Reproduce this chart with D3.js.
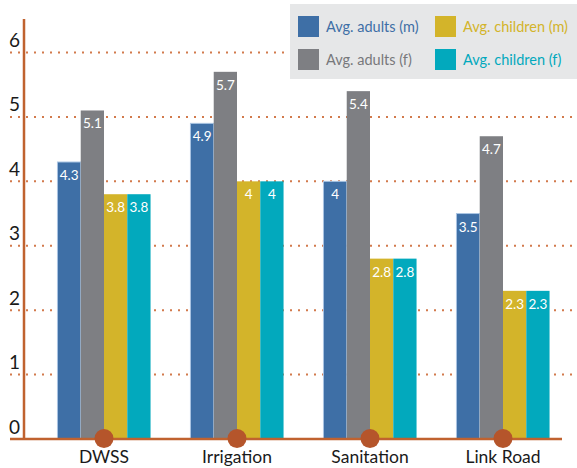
<!DOCTYPE html>
<style>
body { margin: 0; background: #fff; }
text { font-family: "Lato", "Open Sans", sans-serif; }
</style>
<svg width="577" height="468"></svg>
<script src="https://d3js.org/d3.v7.min.js"></script>
<script>

var categories = ["DWSS", "Irrigation", "Sanitation", "Link Road"];
var seriesNames = ["Avg. adults (m)", "Avg. adults (f)", "Avg. children (m)", "Avg. children (f)"];
var adultsM = [4.3, 4.9, 4, 3.5];
var adultsF = [5.1, 5.7, 5.4, 4.7];
var childrenM = [3.8, 4, 2.8, 2.3];
var childrenF = [3.8, 4, 2.8, 2.3];
var yTicks = [0, 1, 2, 3, 4, 5, 6];

var colors = ["#3e6fa6", "#7e7f83", "#d3b42a", "#02a9bd"];
var textColors = ["#3e6fa6", "#77787b", "#d3b42a", "#02a9bd"];
var rust = "#c0622f";

var series = [adultsM, adultsF, childrenM, childrenF];
var data = categories.map(function(c, i) {
  return { cat: c, values: series.map(function(s, k) { return { key: seriesNames[k], k: k, v: s[i] }; }) };
});

var svg = d3.select("svg");

var x = d3.scaleBand()
    .domain(categories)
    .range([37.5, 569.5])
    .paddingInner(0.3)
    .paddingOuter(0.15);

var x1 = d3.scaleBand()
    .domain(seriesNames)
    .range([0, x.bandwidth()]);

var y = d3.scaleLinear()
    .domain([0, 6])
    .range([439, 52.5]);

// dotted gridlines
svg.append("g")
  .selectAll("line")
  .data(yTicks.slice(1))
  .enter().append("line")
    .attr("x1", 10)
    .attr("x2", 574)
    .attr("y1", function(d) { return y(d); })
    .attr("y2", function(d) { return y(d); })
    .attr("stroke", "#d27a4c")
    .attr("stroke-width", 2)
    .attr("stroke-dasharray", "2,6");

// tick labels
svg.append("g")
  .selectAll("text")
  .data(yTicks)
  .enter().append("text")
    .attr("x", 14.5)
    .attr("y", function(d) { return y(d) - 5.5; })
    .attr("text-anchor", "middle")
    .attr("fill", "#1a1a1a")
    .style("font-size", "19px")
    .text(function(d) { return d; });

// legend
var legend = svg.append("g");
legend.append("rect")
    .attr("x", 290)
    .attr("y", 4)
    .attr("width", 287)
    .attr("height", 75)
    .attr("fill", "#e6e7e8");

var items = legend.selectAll("g")
  .data(seriesNames)
  .enter().append("g")
    .attr("transform", function(d, i) {
      var col = i < 2 ? 0 : 1, row = i % 2;
      return "translate(" + (298 + col * 137) + "," + (16 + row * 33) + ")";
    });

items.append("rect")
    .attr("width", 21)
    .attr("height", 21)
    .attr("fill", function(d, i) { return colors[i]; });

items.append("text")
    .attr("x", 28)
    .attr("y", 15.5)
    .attr("fill", function(d, i) { return textColors[i]; })
    .style("font-size", "14.5px")
    .text(function(d) { return d; });

// bars
var groups = svg.append("g")
  .selectAll("g")
  .data(data)
  .enter().append("g")
    .attr("transform", function(d) { return "translate(" + x(d.cat) + ",0)"; });

groups.selectAll("rect")
  .data(function(d) { return d.values; })
  .enter().append("rect")
    .attr("x", function(d) { return x1(d.key); })
    .attr("y", function(d) { return y(d.v); })
    .attr("width", x1.bandwidth())
    .attr("height", function(d) { return y(0) - y(d.v); })
    .attr("fill", function(d) { return colors[d.k]; })
    .attr("stroke", function(d) { return d.k == 0 ? "#a9c4e2" : "none"; })
    .attr("stroke-width", 1);

groups.selectAll("text")
  .data(function(d) { return d.values; })
  .enter().append("text")
    .attr("x", function(d) { return x1(d.key) + x1.bandwidth() / 2; })
    .attr("y", function(d) { return y(d.v) + 18; })
    .attr("text-anchor", "middle")
    .attr("fill", "#fff")
    .style("font-size", "13.5px")
    .text(function(d) { return d.v; });

// axes
svg.append("line")
    .attr("x1", 24).attr("x2", 24)
    .attr("y1", 19).attr("y2", y(0))
    .attr("stroke", rust)
    .attr("stroke-width", 2.5);

svg.append("line")
    .attr("x1", 10).attr("x2", 562)
    .attr("y1", y(0)).attr("y2", y(0))
    .attr("stroke", rust)
    .attr("stroke-width", 2.5);

svg.append("g")
  .selectAll("circle")
  .data(categories)
  .enter().append("circle")
    .attr("cx", function(d) { return x(d) + x.bandwidth() / 2; })
    .attr("cy", y(0) - 0.5)
    .attr("r", 9.5)
    .attr("fill", "#b5552b");

svg.append("g")
  .selectAll("text")
  .data(categories)
  .enter().append("text")
    .attr("x", function(d) { return x(d) + x.bandwidth() / 2; })
    .attr("y", 463)
    .attr("text-anchor", "middle")
    .attr("fill", "#1a1a1a")
    .style("font-size", "17.5px")
    .text(function(d) { return d; });

</script>
